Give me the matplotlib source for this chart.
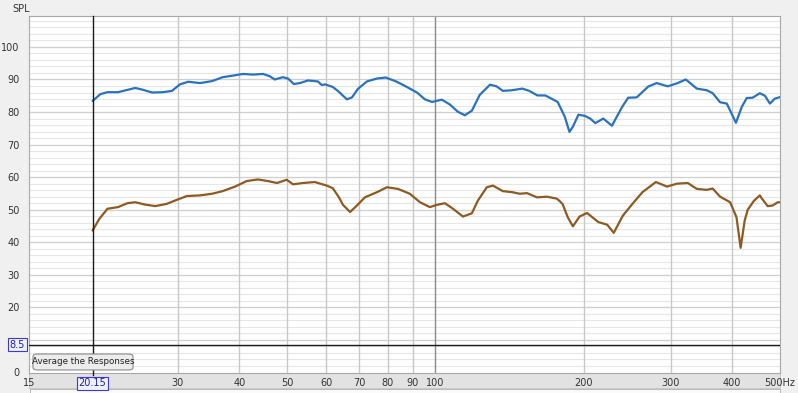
import matplotlib
matplotlib.use("Agg")
import matplotlib.pyplot as plt
from matplotlib.patches import FancyBboxPatch, Rectangle
import numpy as np

# top trace (Hz, dB)
blue_freq = [20.15, 20.9, 21.6, 22.7, 23.7, 24.6, 25.4, 26.6, 28.0, 29.2, 30.3, 31.5,
             33.3, 35.2, 37.0, 39.2, 40.7, 42.6, 44.7, 46.1, 47.2, 49.0, 50.2, 51.6,
             53.1, 55.1, 57.7, 58.8, 59.7, 61.9, 63.7, 66.1, 67.7, 69.6, 72.6, 76.1,
             79.3, 83.5, 87.5, 91.7, 95.2, 98.4, 103, 107, 111, 114.7, 118.5, 123,
             129, 133, 137, 143, 150, 155, 161, 167, 172, 177, 183, 187, 190, 195,
             201, 206, 211, 219, 228, 239, 246, 256, 270, 281, 296, 310, 322, 339,
             355, 365, 378, 390, 407, 418, 428, 440, 455, 466, 477, 488, 500]
blue_db = [83.4, 85.5, 86.1, 86.1, 86.8, 87.4, 86.9, 86.0, 86.1, 86.5, 88.5, 89.3,
           88.9, 89.5, 90.7, 91.3, 91.7, 91.5, 91.7, 91.0, 90.0, 90.7, 90.3, 88.6,
           88.9, 89.7, 89.4, 88.3, 88.5, 87.7, 86.2, 83.9, 84.5, 87.1, 89.4, 90.3,
           90.6, 89.3, 87.7, 86.0, 83.9, 83.1, 83.8, 82.3, 80.1, 79.0, 80.4, 85.3,
           88.4, 87.9, 86.5, 86.7, 87.2, 86.5, 85.1, 85.1, 84.1, 83.1, 78.5, 73.9,
           75.5, 79.2, 78.8, 78.0, 76.6, 78.0, 75.8, 81.5, 84.4, 84.5, 87.8, 88.9,
           87.9, 88.9, 90.0, 87.2, 86.7, 85.8, 83.0, 82.6, 76.7, 81.5, 84.3, 84.4,
           85.8, 85.0, 82.6, 84.1, 84.6]

# bottom trace (Hz, dB)
brown_freq = [20.15, 20.8, 21.6, 22.7, 23.7, 24.6, 25.7, 27.0, 28.5, 29.6, 31.3, 33.3,
              35.2, 37.0, 39.2, 41.4, 43.6, 45.7, 47.7, 49.9, 51.4, 53.8, 56.9, 60.2,
              61.9, 63.7, 64.9, 67.1, 69.3, 71.9, 76.1, 79.7, 83.9, 88.7, 93.0, 97.4,
              100.7, 104.5, 108.5, 113.7, 118.5, 121.9, 127.1, 130.8, 137, 143, 148.3,
              153.3, 160.6, 168.3, 176.3, 179, 181, 185.5, 190, 196, 203, 214, 223,
              230, 240, 251, 263, 280, 295, 309, 325, 339, 355, 365, 378, 396, 408,
              416, 424, 430, 443, 455, 459, 472, 483, 495, 500]
brown_db = [43.6, 47.2, 50.3, 50.8, 52.0, 52.3, 51.6, 51.1, 51.8, 52.8, 54.2, 54.4,
            54.9, 55.7, 57.1, 58.8, 59.3, 58.8, 58.2, 59.2, 57.8, 58.2, 58.5, 57.4,
            56.6, 53.8, 51.5, 49.3, 51.3, 53.8, 55.4, 56.9, 56.4, 54.9, 52.3, 50.8,
            51.5, 52.0, 50.3, 47.9, 48.9, 52.8, 56.9, 57.4, 55.7, 55.4, 54.9,
            55.1, 53.8, 54.0, 53.4, 52.5, 51.8, 47.7, 44.9, 47.9, 49.0, 46.2, 45.4,
            42.9, 48.2, 51.8, 55.4, 58.5, 57.1, 58.0, 58.2, 56.4, 56.1, 56.5, 54.0,
            52.3, 47.7, 38.3, 46.7, 50.0, 52.8, 54.4, 53.5, 51.1, 51.3, 52.3, 52.3]

x_ticks = [15, 30, 40, 50, 60, 70, 80, 90, 100, 200, 300, 400, 500]
x_labels = ["15", "30", "40", "50", "60", "70", "80", "90", "100", "200", "300", "400", "500Hz"]
x_grid = [30, 40, 50, 60, 70, 80, 90, 100, 200, 300, 400]
y_ticks = [0, 20, 30, 40, 50, 60, 70, 80, 90, 100]
cursor_freq = 20.15
cursor_spl = 8.5

W, H = 798, 393
fig = plt.figure(figsize=(W / 100, H / 100), dpi=100)
fig.patch.set_facecolor("#f0f0f0")

def fx(px):
    return px / W

def fy(py):
    return 1 - py / H

left, right, top, bottom = 29.4, 780, 16, 372.5
ax = fig.add_axes([fx(left), fy(bottom), fx(right - left), (bottom - top) / H])
ax.set_facecolor("white")

# band behind the frequency labels
fig.patches.append(Rectangle((fx(left), fy(388)), fx(right - left), (388 - bottom) / H,
                             transform=fig.transFigure, facecolor="#e2e2e2",
                             edgecolor="#c4c4c4", lw=0.6, zorder=-2))
fig.patches.append(Rectangle((fx(30), fy(393)), fx(750), 4 / H, transform=fig.transFigure,
                             facecolor="#fafafa", edgecolor="#b0b0b0", lw=0.6, zorder=-2))

ax.set_xscale("log")
ax.set_xlim(15, 500)
ax.set_ylim(0, 109.5)

# horizontal grid: every 2 dB, darker every 10 dB
for v in np.arange(2, 110, 2):
    if v % 10 == 0:
        ax.axhline(v, color="#cfcfcf", lw=0.9, zorder=1)
    else:
        ax.axhline(v, color="#e6e6e6", lw=0.8, zorder=1)
for f in x_grid:
    ax.axvline(f, color="#8a8a8a" if f == 100 else "#c8c8c8", lw=1.0, zorder=1)

ax.plot(blue_freq, blue_db, color="#2a72bd", lw=1.6, zorder=3,
        solid_capstyle="round", solid_joinstyle="round")
ax.plot(brown_freq, brown_db, color="#8e5a22", lw=1.6, zorder=3,
        solid_capstyle="round", solid_joinstyle="round")

# cursor lines; the vertical one runs down to the top of its value box
ax.axvline(cursor_freq, ymin=-0.008, ymax=1, color="#1a1a1a", lw=1.0, zorder=4, clip_on=False)
ax.axhline(cursor_spl, color="#1a1a1a", lw=1.0, zorder=4)

ax.set_xticks(x_ticks + [cursor_freq])
ax.set_xticklabels(x_labels + ["20.15"])
ax.xaxis.set_minor_locator(matplotlib.ticker.NullLocator())
ax.set_yticks(y_ticks)
ax.set_yticklabels([str(v) for v in y_ticks])
ax.tick_params(axis="both", length=0, labelsize=7, labelcolor="#333333")
ax.tick_params(axis="x", pad=4)
ax.tick_params(axis="y", pad=7)
for lbl in ax.get_xticklabels():
    if lbl.get_text() == "20.15":
        lbl.set_bbox(dict(boxstyle="square,pad=0.15", facecolor="#eef0ff",
                          edgecolor="#3a3ad0", lw=0.8))
        lbl.set_color("#2020a0")

for s in ax.spines.values():
    s.set_color("#a8a8a8")
    s.set_linewidth(0.8)

# boxed SPL cursor value
fig.text(fx(17.5), fy(344.5), "8.5", fontsize=7, color="#2020a0", ha="center", va="center",
         bbox=dict(boxstyle="square,pad=0.15", facecolor="#eef0ff", edgecolor="#3a3ad0", lw=0.8))

fig.text(fx(12), fy(9), "SPL", fontsize=7, color="#333333", ha="left", va="center")

# button
btn = FancyBboxPatch((fx(33), fy(370)), fx(100), 16 / H, transform=fig.transFigure,
                     boxstyle="round,pad=0,rounding_size=0.006", facecolor="#ececec",
                     edgecolor="#8c8c8c", lw=0.8, zorder=5)
fig.patches.append(btn)
fig.text(fx(83), fy(362), "Average the Responses", fontsize=6.3, color="#222222",
         ha="center", va="center", zorder=6)

fig.savefig("out.png", dpi=100, facecolor=fig.get_facecolor())
